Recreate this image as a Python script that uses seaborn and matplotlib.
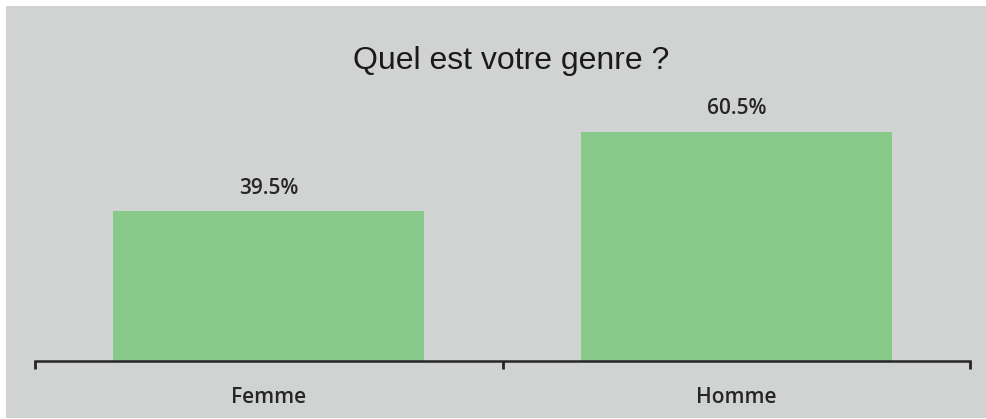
import matplotlib
matplotlib.use("Agg")
import matplotlib.pyplot as plt
import seaborn as sns
from matplotlib.patches import Rectangle

# Data
genres = ["Femme", "Homme"]
pourcentages = [39.5, 60.5]

BG = "#d1d3d2"
GREEN = "#88c989"
INK = "#262626"

sns.set_style("white")
plt.rcParams['font.family'] = ['Open Sans', 'DejaVu Sans']

fig = plt.figure(figsize=(9.87, 4.19), dpi=100)
fig.patch.set_facecolor("white")
# gray panel with a thin white margin top/left
fig.patches.append(Rectangle((6 / 987, 1 / 419), 1, 1 - 7 / 419,
                             transform=fig.transFigure, facecolor=BG,
                             edgecolor="none", zorder=-10))

ax = fig.add_axes([35 / 987, 1 - 361 / 419, 935 / 987, 265 / 419])
ax.set_facecolor("none")

sns.barplot(x=genres, y=pourcentages, color=GREEN, saturation=1,
            width=0.665, linewidth=0, edgecolor="none", ax=ax)

ax.set_xlim(-0.5, 1.5)
ax.set_ylim(0, 70)
ax.set_yticks([])
ax.set_xlabel("")
ax.set_ylabel("")
for s in ["left", "top", "right"]:
    ax.spines[s].set_visible(False)
ax.spines["bottom"].set_color(INK)
ax.spines["bottom"].set_linewidth(1.8)

# category boundary ticks
ax.set_xticks([-0.5, 0.5, 1.5], minor=True)
ax.tick_params(axis="x", which="minor", bottom=True, length=6, width=2,
               color=INK, direction="out")
ax.tick_params(axis="x", which="major", bottom=False, length=0, pad=19,
               labelsize=15)
for lbl in ax.get_xticklabels():
    lbl.set_color(INK)
    lbl.set_fontweight("semibold")

for i, v in enumerate(pourcentages):
    ax.annotate(f"{v}%", (i, v), xytext=(0, 9), textcoords="offset points",
                ha="center", va="bottom", fontsize=15, fontweight="semibold",
                color=INK)

fig.text(511 / 987, 1 - 61 / 419, "Quel est votre genre ?", ha="center",
         va="center", fontsize=23, family=["Liberation Sans", "DejaVu Sans"],
         color="#1a1a1a")

fig.savefig("out.png", dpi=100, facecolor=fig.get_facecolor())
